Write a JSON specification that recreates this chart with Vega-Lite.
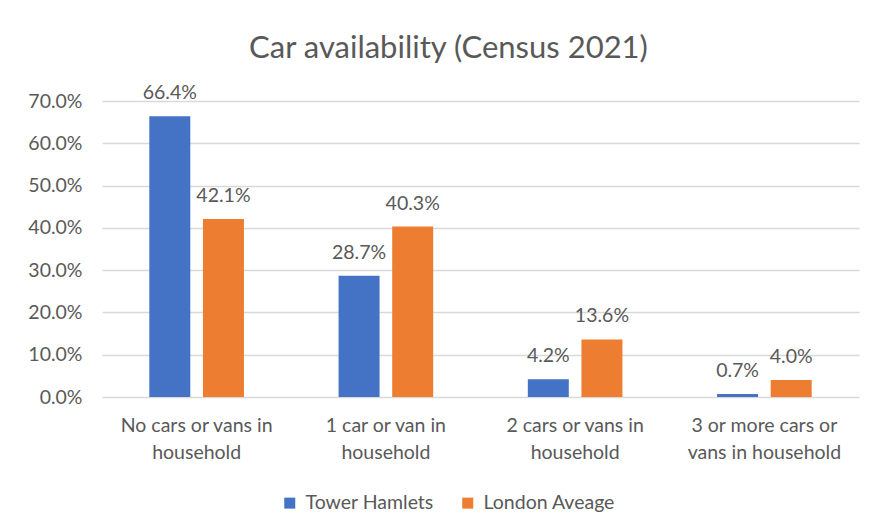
{
  "$schema": "https://vega.github.io/schema/vega-lite/v6.json",
  "autosize": {"type": "none"},
  "width": 757,
  "height": 296,
  "padding": {"left": 102, "top": 101, "right": 19, "bottom": 134},
  "background": "white",
  "title": {
    "text": "Car availability (Census 2021)",
    "fontSize": 31,
    "font": "Lato",
    "fontWeight": "normal",
    "color": "#595959",
    "anchor": "middle",
    "dx": -32,
    "offset": 18
  },
  "data": {
    "values": [
      {"category": "No cars or vans in household", "series": "Tower Hamlets", "value": 66.4},
      {"category": "No cars or vans in household", "series": "London Aveage", "value": 42.1},
      {"category": "1 car or van in household", "series": "Tower Hamlets", "value": 28.7},
      {"category": "1 car or van in household", "series": "London Aveage", "value": 40.3},
      {"category": "2 cars or vans in household", "series": "Tower Hamlets", "value": 4.2},
      {"category": "2 cars or vans in household", "series": "London Aveage", "value": 13.6},
      {"category": "3 or more cars or vans in household", "series": "Tower Hamlets", "value": 0.7},
      {"category": "3 or more cars or vans in household", "series": "London Aveage", "value": 4.0}
    ]
  },
  "transform": [
    {"calculate": "format(datum.value, '.1f') + '%'", "as": "label"}
  ],
  "config": {
    "font": "Lato",
    "view": {"stroke": null}
  },
  "encoding": {
    "x": {
      "field": "category",
      "type": "nominal",
      "sort": null,
      "scale": {"paddingInner": 0.5, "paddingOuter": 0.25},
      "axis": {
        "title": null,
        "labelAngle": 0,
        "ticks": false,
        "domain": false,
        "labelFontSize": 19.5,
        "labelColor": "#595959",
        "labelPadding": 19,
        "labelLineHeight": 27,
        "labelExpr": "datum.value == 'No cars or vans in household' ? ['No cars or vans in', 'household'] : datum.value == '1 car or van in household' ? ['1 car or van in', 'household'] : datum.value == '2 cars or vans in household' ? ['2 cars or vans in', 'household'] : ['3 or more cars or', 'vans in household']"
      }
    },
    "xOffset": {
      "field": "series",
      "type": "nominal",
      "sort": ["Tower Hamlets", "London Aveage"],
      "scale": {"paddingInner": 0.236}
    },
    "y": {
      "field": "value",
      "type": "quantitative",
      "scale": {"domain": [0, 70]},
      "axis": {
        "title": null,
        "values": [0, 10, 20, 30, 40, 50, 60, 70],
        "labelExpr": "format(datum.value, '.1f') + '%'",
        "ticks": false,
        "domain": false,
        "gridColor": "#D9D9D9",
        "gridWidth": 1.5,
        "labelFontSize": 19.5,
        "labelColor": "#595959",
        "labelPadding": 20
      }
    }
  },
  "layer": [
    {
      "mark": {"type": "bar"},
      "encoding": {
        "color": {
          "field": "series",
          "type": "nominal",
          "sort": ["Tower Hamlets", "London Aveage"],
          "scale": {"domain": ["Tower Hamlets", "London Aveage"], "range": ["#4472C4", "#ED7D31"]},
          "legend": {
            "title": null,
            "orient": "none",
            "direction": "horizontal",
            "legendX": 178,
            "legendY": 392,
            "symbolType": "square",
            "symbolSize": 121,
            "symbolStrokeWidth": 0,
            "labelFontSize": 19.5,
            "labelColor": "#595959",
            "columnPadding": 24,
            "labelOffset": 6
          }
        }
      }
    },
    {
      "mark": {"type": "text", "baseline": "bottom", "dy": -13, "fontSize": 19.5, "color": "#595959"},
      "encoding": {
        "text": {"field": "label", "type": "nominal"},
        "detail": {"field": "series"}
      }
    }
  ]
}
